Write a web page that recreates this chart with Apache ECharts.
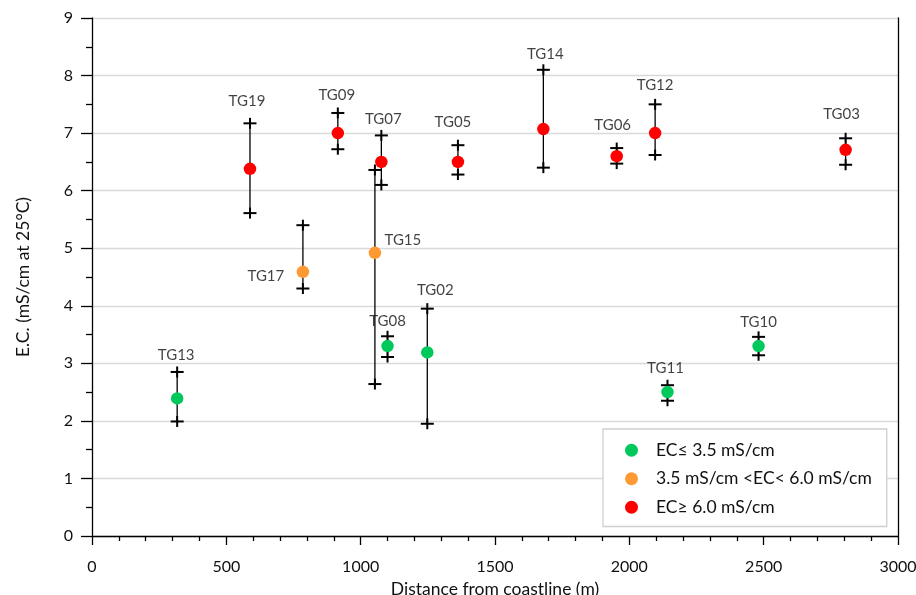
<!DOCTYPE html>
<html>
<head>
<meta charset="utf-8">
<script src="https://cdn.jsdelivr.net/npm/echarts@6/dist/echarts.min.js"></script>
<style>
html,body{margin:0;padding:0;background:#fff;}
#chart{width:916px;height:595px;}
</style>
</head>
<body>
<div id="chart"></div>
<script>
// ---- data ----
const wellNames = ['TG13','TG19','TG09','TG17','TG15','TG07','TG08','TG02','TG05','TG14','TG06','TG12','TG11','TG10','TG03'];
const distances = [317, 588, 915, 785, 1053, 1077, 1100, 1248, 1362, 1680, 1953, 2096, 2142, 2481, 2805];
const ecMean    = [2.39, 6.38, 7.00, 4.59, 4.92, 6.50, 3.30, 3.19, 6.50, 7.07, 6.60, 7.00, 2.50, 3.30, 6.71];
const ecMax     = [2.85, 7.17, 7.35, 5.40, 6.36, 6.96, 3.47, 3.95, 6.79, 8.10, 6.74, 7.50, 2.62, 3.46, 6.91];
const ecMin     = [1.99, 5.61, 6.72, 4.30, 2.64, 6.10, 3.11, 1.95, 6.28, 6.40, 6.47, 6.62, 2.35, 3.14, 6.45];
const classNames = ['EC\u2264 3.5 mS/cm', '3.5 mS/cm <EC< 6.0 mS/cm', 'EC\u2265 6.0 mS/cm'];
const xTicks = [0, 500, 1000, 1500, 2000, 2500, 3000];
const yTicks = [0, 1, 2, 3, 4, 5, 6, 7, 8, 9];

// ---- style ----
const classColors = ['#00c85a', '#ff9933', '#ff0000'];
const FONT = 'Lato';
const TXT = '#111';
// label offsets (px) relative to the max marker of each well
const labelOffsets = {
  TG13: [-1, -17], TG19: [-3, -22], TG09: [-1, -18], TG17: [-37, 51], TG15: [28, 70],
  TG07: [2, -16], TG08: [0, -15], TG02: [8, -18], TG05: [-5, -23], TG14: [2, -16],
  TG06: [-4, -23], TG12: [0, -19], TG11: [-2, -17], TG10: [0, -15], TG03: [-4, -24]
};

function classOf(v) { return v <= 3.5 ? 0 : (v < 6.0 ? 1 : 2); }

const barData = wellNames.map((n, i) => [distances[i], ecMin[i], ecMax[i]]);
const dotSeries = classNames.map((cn, c) => ({
  name: cn,
  type: 'scatter',
  symbol: 'circle',
  symbolSize: 12.5,
  z: 5,
  itemStyle: { color: classColors[c], opacity: 1 },
  emphasis: { disabled: true },
  data: wellNames.map((n, i) => classOf(ecMean[i]) === c ? [distances[i], ecMean[i]] : null).filter(d => d)
}));

const labelData = wellNames.map((n, i) => ({
  value: [distances[i], ecMax[i]],
  name: n,
  label: { offset: labelOffsets[n] }
}));

const chart = echarts.init(document.getElementById('chart'), null, { renderer: 'canvas' });
chart.setOption({
  animation: false,
  backgroundColor: '#ffffff',
  grid: { left: 92, right: 18, top: 18, bottom: 59, containLabel: false, outerBoundsMode: 'none' },
  xAxis: {
    type: 'value',
    min: xTicks[0], max: xTicks[xTicks.length - 1], interval: 500,
    name: 'Distance from coastline (m)',
    nameLocation: 'middle', nameGap: 41,
    nameTextStyle: { fontFamily: FONT, fontSize: 17.5, color: TXT },
    axisLine: { show: true, onZero: false, lineStyle: { color: '#000', width: 1.3 } },
    axisTick: { show: true, length: 9, lineStyle: { color: '#000', width: 1.3 } },
    minorTick: { show: true, splitNumber: 5, length: 5, lineStyle: { color: '#000', width: 1.3 } },
    axisLabel: { fontFamily: FONT, fontSize: 16, color: TXT, margin: 23, formatter: v => String(v) },
    splitLine: { show: false }
  },
  yAxis: [{
    type: 'value',
    min: yTicks[0], max: yTicks[yTicks.length - 1], interval: 1,
    name: 'E.C. (mS/cm at 25\u00b0C)',
    nameLocation: 'middle', nameGap: 60,
    nameTextStyle: { fontFamily: FONT, fontSize: 17.5, color: TXT },
    axisLine: { show: true, onZero: false, lineStyle: { color: '#000', width: 1.3 } },
    axisTick: { show: true, length: 11, lineStyle: { color: '#000', width: 1.3 } },
    minorTick: { show: true, splitNumber: 2, length: 6, lineStyle: { color: '#000', width: 1.3 } },
    axisLabel: { fontFamily: FONT, fontSize: 16, color: TXT, margin: 19, formatter: v => String(v) },
    splitLine: { show: true, lineStyle: { color: '#d9d9d9', width: 1.3 } }
  }, {
    type: 'value',
    position: 'right',
    min: yTicks[0], max: yTicks[yTicks.length - 1], interval: 1,
    axisLine: { show: true, onZero: false, lineStyle: { color: '#000', width: 1.3 } },
    axisTick: { show: false },
    axisLabel: { show: false },
    splitLine: { show: false }
  }],
  legend: {
    orient: 'vertical',
    left: 603, top: 429,
    padding: [12, 15, 10, 22],
    itemWidth: 13, itemHeight: 13,
    itemGap: 10,
    icon: 'circle',
    backgroundColor: '#fff',
    borderColor: '#d0d0d0', borderWidth: 1.3,
    textStyle: { fontFamily: FONT, fontSize: 17.5, color: TXT, lineHeight: 18.5, padding: [0, 0, 0, 13] },
    data: classNames
  },
  series: [
    {
      name: 'range',
      type: 'custom',
      z: 3,
      silent: true,
      data: barData,
      encode: { x: 0, y: [1, 2] },
      renderItem: function (params, api) {
        const x = api.value(0);
        const pMin = api.coord([x, api.value(1)]);
        const pMax = api.coord([x, api.value(2)]);
        const hw = 6.5, hh = 5.5;
        const cross = p => [
          { type: 'line', shape: { x1: p[0] - hw, y1: p[1], x2: p[0] + hw, y2: p[1] }, style: { stroke: '#000', lineWidth: 2 } },
          { type: 'line', shape: { x1: p[0], y1: p[1] - hh, x2: p[0], y2: p[1] + hh }, style: { stroke: '#000', lineWidth: 2 } }
        ];
        return {
          type: 'group',
          children: [
            { type: 'line', shape: { x1: pMin[0], y1: pMin[1], x2: pMax[0], y2: pMax[1] }, style: { stroke: '#000', lineWidth: 1.3 } }
          ].concat(cross(pMin), cross(pMax))
        };
      }
    },
    ...dotSeries,
    {
      name: 'labels',
      type: 'scatter',
      symbolSize: 0,
      silent: true,
      z: 6,
      data: labelData,
      label: {
        show: true,
        position: 'inside',
        formatter: p => p.name,
        fontFamily: FONT, fontSize: 15, color: TXT
      }
    }
  ]
});
</script>
</body>
</html>
